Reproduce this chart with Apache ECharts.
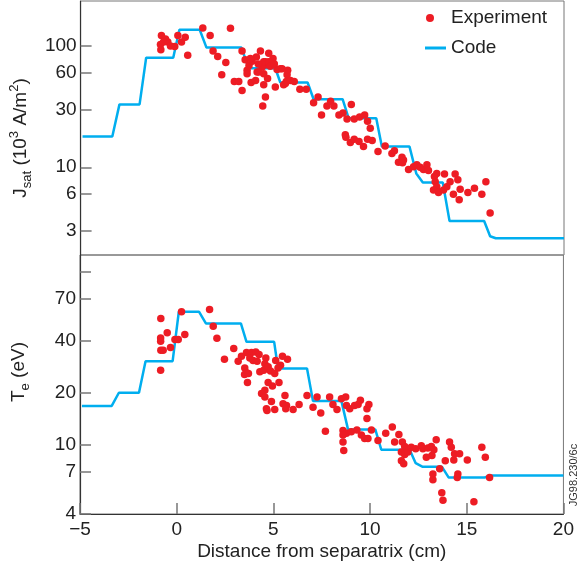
<!DOCTYPE html>
<html>
<head>
<meta charset="utf-8">
<script src="https://cdn.jsdelivr.net/npm/echarts@6/dist/echarts.min.js"></script>
<style>html,body{margin:0;padding:0;background:#fff}#c{width:577px;height:574px}</style>
</head>
<body>
<div id="c"></div>
<script>
const FONT = "'Liberation Sans', Arial, sans-serif";
const xTicks = [-5, 0, 5, 10, 15, 20];
const jsatTicks = [3, 6, 10, 30, 60, 100];
const teTicks = [4, 7, 10, 20, 40, 70, 100];
const teLabels = [4, 7, 10, 20, 40, 70];

// Code (model) profiles
const jsatCodeX = [-4.9, -3.36, -2.99, -1.95, -1.61, -0.21, 0.11, 1.16, 1.51, 3.32, 3.69, 5.07, 5.33, 6.74, 7.05, 8.55, 8.86, 10.29, 10.58, 12.01, 12.36, 12.70, 13.73, 14.08, 15.87, 16.18, 16.47, 20];
const jsatCodeY = [17.9, 17.9, 33, 33, 80, 80, 136, 136, 97, 97, 65.5, 65.5, 50, 50, 36.4, 36.4, 25.4, 25.4, 14.8, 14.8, 8.9, 7.5, 7.5, 3.6, 3.6, 2.7, 2.6, 2.6];
const teCodeX = [-4.9, -3.36, -2.99, -1.95, -1.61, -0.21, 0.11, 1.16, 1.51, 3.32, 3.61, 5.04, 5.24, 6.74, 7.05, 8.52, 8.86, 10.27, 10.58, 12.05, 12.36, 12.70, 13.71, 14.06, 15.92, 16.27, 20];
const teCodeY = [16.8, 16.8, 20, 20, 30.4, 30.4, 58.6, 58.6, 50.2, 50.2, 39.3, 39.3, 27.6, 27.6, 17.9, 17.9, 12.3, 12.3, 9.4, 9.4, 7.85, 7.5, 7.5, 6.5, 6.5, 6.67, 6.67];

// Experiment points [x, value]
const jsatExp = [
 [-0.82,122],[-0.61,114],[-0.49,108],[-0.87,103],[-0.85,93],[-0.35,100],[-0.13,99],[0.03,122],[0.22,108],[0.41,118],[0.54,84],[-0.71,108],
 [1.32,141],[1.70,122],[2.75,140],[1.85,91],[2.09,82],[2.51,73],[2.30,58],[2.95,51],[3.18,51],[3.35,43],[3.35,91],
 [3.51,77],[3.61,63],[3.71,69],[3.87,75],[4.09,81],[4.30,91],[4.73,87],[4.95,79],[4.56,74],[4.61,70],[4.39,67],[4.13,61],[4.47,59],[4.67,54],[4.56,38],[4.42,32],[4.47,48],[3.82,50],[4.05,52],[5.07,46],[3.61,59],[3.78,79],[4.21,61],[4.47,74],[4.73,74],[5.33,65],[5.59,49],[5.68,58],[5.16,64],[5.42,65],[5.71,63],[5.50,48],[5.64,51],[5.85,52],[6.05,51],[6.34,44],[6.67,44],[4.81,68],[5.02,71],[4.19,71],
 [7.05,34],[7.28,38],[7.46,27],[7.74,32],[7.93,35],[8.10,32],[8.36,27],[8.57,28],[8.78,25],[9.00,33],[9.15,25],[9.43,26],[9.69,27],[9.84,24],[9.98,21],[8.69,18.5],[8.72,17.7],[8.95,16],[9.15,17],[9.40,16.3],[9.63,14.8],[9.84,17],[10.08,16.6],[10.38,13.5],[10.75,15],[11.10,13],[11.23,13.7],[11.44,11],[11.62,12.1],[11.70,11.5],
 [11.65,10.9],[11.96,9.6],[12.22,10.1],[12.39,10.5],[12.56,10],[12.73,9.6],[12.91,10.5],[12.99,9.4],[13.42,8.9],[13.30,8.4],[13.34,7.6],[13.42,6.9],[13.25,6.5],[13.51,6.2],[13.77,6.5],[13.94,6.9],[13.82,8.8],[14.11,7.6],[14.37,8.8],[14.51,7.9],[14.28,6.0],[14.63,6.6],[14.58,5.4],[15.03,6.2],[15.37,6.7],[15.75,6.0],[15.96,7.6],[16.18,4.2]
];
const teExp = [
 [-0.82,53.6],[-0.49,44.3],[-0.83,41.4],[-0.83,39.6],[-0.09,40.5],[0.08,40.5],[0.42,43.4],[-0.32,36.5],[-0.82,35.2],[-0.70,35.2],[-0.83,27],[0.25,58.6],[1.70,60.4],[1.89,48.4],[2.08,41.3],[2.47,31.2],[2.95,36],[3.18,30.4],[3.35,32.5],[3.61,34.1],[3.87,34.1],[4.09,34.4],[4.26,33.2],[4.61,31.7],[3.78,31.7],[3.95,30.7],[4.16,30.4],[3.52,27.8],[3.61,26.1],[3.51,25.5],[3.71,25.8],[3.66,22.9],[4.30,26.4],[4.56,29.4],[4.50,27],[4.73,28.2],[4.85,26.7],[5.07,25.8],[5.12,30.7],[5.37,28.8],[5.47,32.5],[5.73,31.2],[5.24,27.8],[4.73,22.9],[4.95,21.9],[5.29,22.9],[4.56,20.7],[4.39,19.8],[4.56,18.9],[4.90,17.8],[4.64,16.2],[4.67,15.8],[5.07,16],[5.60,19.3],[5.50,17.3],[5.68,16.9],
 [5.64,16.2],[6.02,16],[6.33,17.1],[6.74,19.3],[7.05,16.5],[7.26,18.9],[7.45,15.3],[7.91,18.9],[8.08,17.1],[8.29,16],[8.52,18.5],[8.74,18.9],[8.78,16.9],[8.95,16.2],[9.20,16.9],[9.38,17.1],[9.50,18.1],[9.84,16.2],[9.94,17.1],[9.84,14.2],[10.07,12.2],[7.69,12],[8.60,12.1],[8.78,11.7],[9.03,11.9],[9.32,12.2],[9.55,11.4],[9.72,10.9],[9.89,10.9],[8.60,10.4],[8.64,9.3],[8.60,11.4],[10.41,10.6],[10.81,11.7],[11.15,12.7],[11.49,11.5],[11.27,10.4],[11.67,10.4],[11.79,9.8],[11.62,9.1],[11.79,8.8],[11.96,9.1],[11.62,8.1],[11.74,7.8],[12.13,9.7],[12.36,9.5],[12.65,9.9],[12.73,9.5],[12.99,9.6],[13.17,9.8],[13.42,10.7],[13.30,9.4],[13.20,8.7],[12.91,8.5],[14.11,10.4],[14.20,9.7],[14.37,8.9],[14.63,8.9],[14.33,8.2],[15.03,8.2],[15.78,9.7],[15.96,8.5],[13.89,8.1],[13.60,7.3],[13.25,6.8],[13.25,6.3],[14.54,6.8],[14.51,6.5],[16.18,6.5],[13.71,5.3],[13.77,4.8],[15.37,4.7]
];

const RED = '#ed1c24', BLUE = '#00aeef', TXT = '#222';
const zip = (xs, ys) => xs.map((x, i) => [x, ys[i]]);

const tickStyle = {inside: true, length: 11, lineStyle: {color: '#777', width: 1.5}};
const lblStyle = {fontSize: 19, fontFamily: FONT, color: TXT};
const rich = {
  m: {fontSize: 19, fontFamily: FONT, color: TXT, lineHeight: 26},
  sub: {fontSize: 13, fontFamily: FONT, color: TXT, lineHeight: 13, verticalAlign: 'bottom'},
  sup: {fontSize: 13, fontFamily: FONT, color: TXT, lineHeight: 13, verticalAlign: 'top'}
};
const legendText = {fontSize: 19, fontFamily: FONT, color: TXT, lineHeight: 20};

const chart = echarts.init(document.getElementById('c'), null, {renderer: 'canvas'});
chart.setOption({
  animation: false,
  backgroundColor: '#fff',
  grid: [
    {left: 80, top: 1, width: 484, height: 254, show: true, borderColor: '#777', borderWidth: 1},
    {left: 80, top: 255, width: 484, height: 259, show: true, borderColor: '#777', borderWidth: 1}
  ],
  legend: [
    {orient: 'vertical', left: 421, top: 3, itemWidth: 22, itemHeight: 8,
     textStyle: Object.assign({padding: [0, 0, 0, 5]}, legendText), data: [{name: 'Experiment', icon: 'circle'}]},
    {orient: 'vertical', left: 420, top: 33, itemWidth: 21, itemHeight: 3,
     textStyle: legendText, data: [{name: 'Code', icon: 'rect'}]}
  ],
  xAxis: [
    {type: 'value', gridIndex: 0, min: -5, max: 20, interval: 5, show: false},
    {type: 'value', gridIndex: 1, min: -5, max: 20, interval: 5,
     axisLine: {show: true, onZero: false, lineStyle: {color: '#333', width: 1.2}},
     axisTick: Object.assign({customValues: xTicks}, tickStyle),
     axisLabel: Object.assign({margin: 6, customValues: xTicks, formatter: v => String(v).replace('-', '\u2212')}, lblStyle),
     splitLine: {show: false},
     name: 'Distance from separatrix (cm)', nameLocation: 'middle', nameGap: 28,
     nameTextStyle: lblStyle}
  ],
  yAxis: [
    {type: 'log', gridIndex: 0, logBase: 10, min: 1.89, max: 235,
     axisLine: {show: true, onZero: false, lineStyle: {color: '#333', width: 1.2}},
     axisTick: Object.assign({customValues: jsatTicks}, tickStyle),
     axisLabel: Object.assign({margin: 4, customValues: jsatTicks}, lblStyle),
     splitLine: {show: false}, minorTick: {show: false},
     name: '{m|J}{sub|sat}{m| (10}{sup|3}{m| A/m}{sup|2}{m|)}', nameLocation: 'middle', nameRotate: 90, nameGap: 46,
     nameTextStyle: {rich: rich, padding: [0, 20, 0, 0]}},
    {type: 'log', gridIndex: 1, logBase: 10, min: 4, max: 124.5,
     axisLine: {show: true, onZero: false, lineStyle: {color: '#333', width: 1.2}},
     axisTick: Object.assign({customValues: teTicks}, tickStyle),
     axisLabel: Object.assign({margin: 4, customValues: teLabels}, lblStyle),
     splitLine: {show: false}, minorTick: {show: false},
     name: '{m|T}{sub|e}{m| (eV)}', nameLocation: 'middle', nameRotate: 90, nameGap: 48,
     nameTextStyle: {rich: rich, padding: [0, 0, 0, 25]}}
  ],
  series: [
    {name: 'Code', type: 'line', xAxisIndex: 0, yAxisIndex: 0, data: zip(jsatCodeX, jsatCodeY),
     symbol: 'none', lineStyle: {color: BLUE, width: 2.5}, itemStyle: {color: BLUE}, z: 2},
    {name: 'Code', type: 'line', xAxisIndex: 1, yAxisIndex: 1, data: zip(teCodeX, teCodeY),
     symbol: 'none', lineStyle: {color: BLUE, width: 2.5}, itemStyle: {color: BLUE}, z: 2},
    {name: 'Experiment', type: 'scatter', xAxisIndex: 0, yAxisIndex: 0, data: jsatExp,
     symbol: 'circle', symbolSize: 7.5, itemStyle: {color: RED, opacity: 1}, z: 3},
    {name: 'Experiment', type: 'scatter', xAxisIndex: 1, yAxisIndex: 1, data: teExp,
     symbol: 'circle', symbolSize: 7.5, itemStyle: {color: RED, opacity: 1}, z: 3}
  ],
  graphic: [
    {type: 'text', x: 574, y: 475, rotation: Math.PI / 2,
     style: {text: 'JG98.230/6c', fontSize: 11, fontFamily: FONT, fill: '#333', align: 'center', verticalAlign: 'middle'}}
  ]
});
</script>
</body>
</html>
